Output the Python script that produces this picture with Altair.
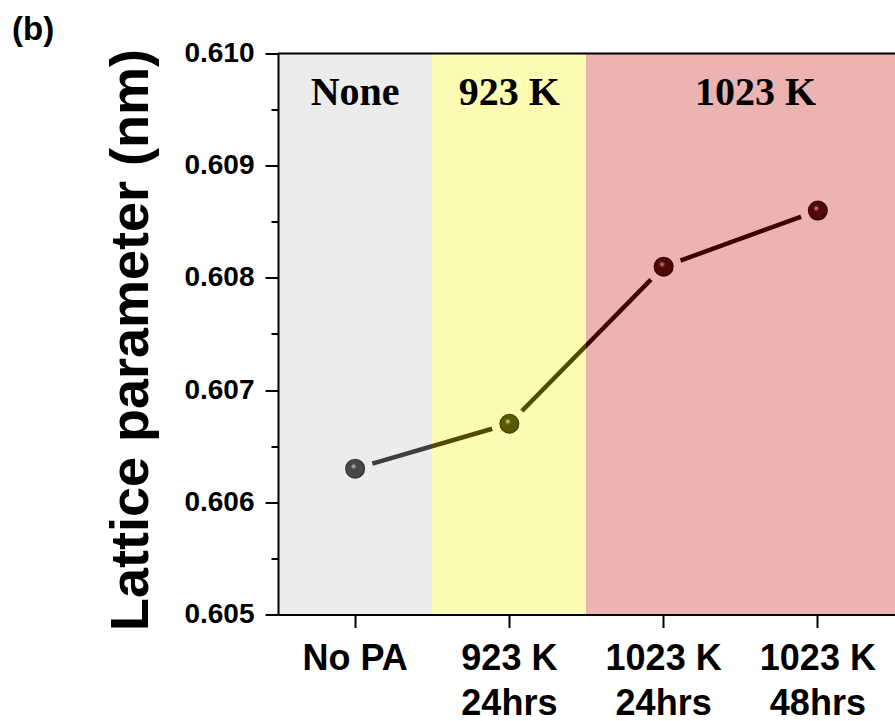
import altair as alt
import pandas as pd

# Heat-treatment conditions (x categories) and measured lattice parameter
treatments = ["No PA", "923 K\n24hrs", "1023 K\n24hrs", "1023 K\n48hrs"]
lattice_nm = [0.6063, 0.6067, 0.6081, 0.6086]
regime = ["None", "923 K", "1023 K", "1023 K"]

# Shaded regions and their header text
regime_names = ["None", "923 K", "1023 K"]
regime_fill = ["#ececec", "#fdfbb2", "#edb2b2"]
regime_line = ["#3e3e3e", "#4f4c00", "#3d0000"]
# sphere shading per regime: highlight, body, rim
regime_ball = [
    ("#c4c4c4", "#474747", "#2c2c2c"),
    ("#e4e4a8", "#5a5800", "#3a3800"),
    ("#d8a0a0", "#500808", "#2e0000"),
]

y_ticks = [0.605, 0.6055, 0.606, 0.6065, 0.607, 0.6075, 0.608, 0.6085, 0.609, 0.6095, 0.610]

W, H = 617, 561
SANS = "Liberation Sans"
SERIF = "Liberation Serif"

df = pd.DataFrame({"treatment": treatments, "a": lattice_nm, "regime": regime})

major = "abs(datum.value * 1000 - round(datum.value * 1000)) < 0.01"

x_enc = alt.X(
    "treatment:N",
    sort=treatments,
    scale=alt.Scale(type="band", paddingInner=0, paddingOuter=0),
    axis=alt.Axis(
        title=None,
        labelAngle=0,
        labelExpr="split(datum.label, '\\n')",
        labelFont=SANS,
        labelFontWeight="bold",
        labelFontSize=36,
        labelLineHeight=45,
        labelColor="black",
        labelPadding=14,
        tickSize=13,
        tickWidth=2,
        tickColor="black",
        domainColor="black",
        domainWidth=2,
        zindex=1,
    ),
)

y_scale = alt.Scale(domain=[0.605, 0.610], nice=False, zero=False)
y_enc = alt.Y(
    "a:Q",
    scale=y_scale,
    axis=alt.Axis(
        values=y_ticks,
        labelExpr=f"{major} ? format(datum.value, '.3f') : ''",
        labelFont=SANS,
        labelFontWeight="bold",
        labelFontSize=28,
        labelColor="black",
        labelPadding=11,
        labelOverlap=False,
        tickSize={"condition": {"test": major, "value": 13}, "value": 7},
        tickWidth=2,
        tickColor="black",
        domainColor="black",
        domainWidth=2,
        grid=False,
        title="Lattice parameter (nm)",
        titleFont=SANS,
        titleFontWeight="bold",
        titleFontSize=54,
        titleColor="black",
        titleAngle=270,
        titleAlign="center",
        titleBaseline="alphabetic",
        titleX=-131,
        titleY=286,
        zindex=1,
    ),
)

base = alt.Chart(df)

region_scale = alt.Scale(domain=regime_names, range=regime_fill)
bands = base.mark_rect(strokeWidth=1).encode(
    x=x_enc,
    color=alt.Color("regime:N", scale=region_scale, legend=None),
    stroke=alt.Stroke("regime:N", scale=region_scale, legend=None),
)

top_border = alt.Chart(pd.DataFrame({"top": [0.610]})).mark_rule(
    color="black", strokeWidth=2
).encode(y=alt.Y("top:Q", scale=y_scale))

# the connecting line changes colour where it crosses a region boundary
n = len(treatments)
b1 = (1 - 0.5) / (n - 1)
b2 = (2 - 0.5) / (n - 1)
line_grad = alt.LinearGradient(
    gradient="linear",
    x1=0, y1=0, x2=1, y2=0,
    stops=[
        alt.GradientStop(offset=0, color=regime_line[0]),
        alt.GradientStop(offset=b1, color=regime_line[0]),
        alt.GradientStop(offset=b1, color=regime_line[1]),
        alt.GradientStop(offset=b2, color=regime_line[1]),
        alt.GradientStop(offset=b2, color=regime_line[2]),
        alt.GradientStop(offset=1, color=regime_line[2]),
    ],
)
line = base.mark_line(stroke=line_grad, strokeWidth=4.5).encode(x=x_enc, y=y_enc)

# shaded spheres, ringed with the region colour so the line stops short of them
points = []
for name, fill, (hi, body, rim) in zip(regime_names, regime_fill, regime_ball):
    grad = alt.RadialGradient(
        gradient="radial",
        x1=0.43, y1=0.40, r1=0,
        x2=0.5, y2=0.5, r2=0.36,
        stops=[
            alt.GradientStop(offset=0, color=hi),
            alt.GradientStop(offset=0.3, color=body),
            alt.GradientStop(offset=0.8, color=body),
            alt.GradientStop(offset=1, color=rim),
        ],
    )
    points.append(
        base.transform_filter(alt.datum.regime == name)
        .mark_point(filled=True, fill=grad, stroke=fill, strokeWidth=8, size=784, opacity=1)
        .encode(x=x_enc, y=y_enc)
    )

hdr_style = dict(font=SERIF, fontWeight="bold", fontSize=40, color="black",
                 align="center", baseline="alphabetic")
headers_single = alt.Chart(
    pd.DataFrame({"treatment": treatments[:2], "label": regime_names[:2]})
).mark_text(**hdr_style).encode(x=x_enc, y=alt.value(51.5), text="label:N")
header_wide = alt.Chart(
    pd.DataFrame({"treatment": [treatments[2]], "label": [regime_names[2]]})
).mark_text(dx=92, **hdr_style).encode(x=x_enc, y=alt.value(51.5), text="label:N")

panel_tag = alt.Chart(pd.DataFrame({"tag": ["(b)"]})).mark_text(
    font=SANS, fontWeight="bold", fontSize=33, color="black",
    align="left", baseline="alphabetic",
).encode(x=alt.value(-266), y=alt.value(-14), text="tag:N")

chart = alt.layer(
    bands, top_border, line, *points, headers_single, header_wide, panel_tag
).properties(
    width=W,
    height=H,
    autosize=alt.AutoSizeParams(type="none"),
    padding={"left": 278, "top": 53.5, "right": 0, "bottom": 106.5},
    background="white",
).configure_view(stroke=None)

chart.save("out.html", embed_options={"renderer": "svg", "actions": False})
